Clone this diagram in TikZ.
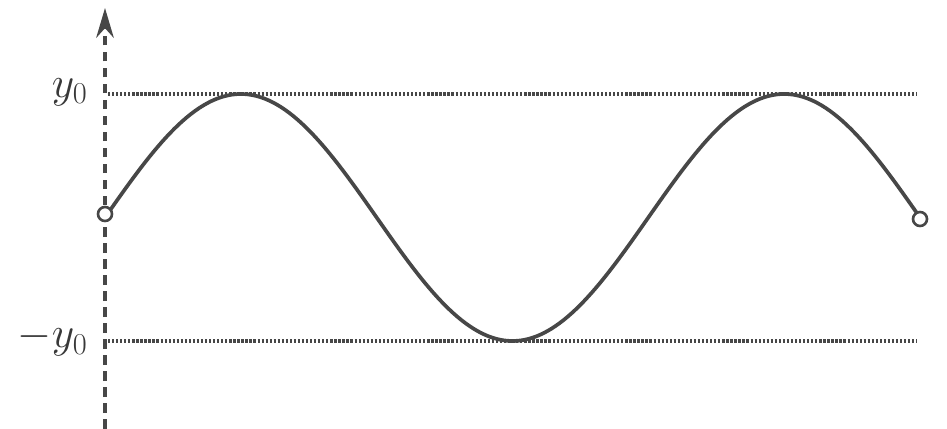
\documentclass[tikz,border=0pt]{standalone}
\usetikzlibrary{arrows.meta}
\begin{document}
\begin{tikzpicture}[x=0.02cm,y=-0.02cm,
  ink/.style={draw=black!72},
  axisline/.style={ink, line width=2.1pt, dash pattern=on 5.5pt off 3.6pt},
  levelline/.style={ink, line width=1.9pt, dash pattern=on 1.3pt off 1.0pt},
  wave/.style={ink, line width=2.1pt},
  endpt/.style={circle, ink, line width=1.5pt, fill=white, minimum size=0.28cm, inner sep=0pt},
  lbl/.style={anchor=east, inner sep=0pt, text=black!78, font=\fontsize{27}{30}\selectfont}
]
\useasboundingbox (0,0) rectangle (947,429);
% axis
\coordinate (axbot) at (105,429);
\coordinate (axtop) at (105,8);
\draw[axisline, -{Stealth[length=17pt,width=10pt]}] (axbot) -- (axtop);
% level lines
\coordinate (p1) at (108,94);
\coordinate (p2) at (917,94);
\coordinate (m1) at (108,341);
\coordinate (m2) at (917,341);
\draw[levelline] (p1) -- (p2);
\draw[levelline] (m1) -- (m2);
% labels
\node[lbl] (ly) at (88,92) {$y_0$};
\node[lbl] (lmy) at (88,339) {$-y_0$};
% wave
\draw[wave] plot[domain=0:540, samples=200, variable=\t] ({105+\t*1.50926}, {217.5-123.5*sin(\t)});
\node[endpt] (start) at (105,214) {};
\node[endpt] (finish) at (920,219) {};
\end{tikzpicture}
\end{document}
